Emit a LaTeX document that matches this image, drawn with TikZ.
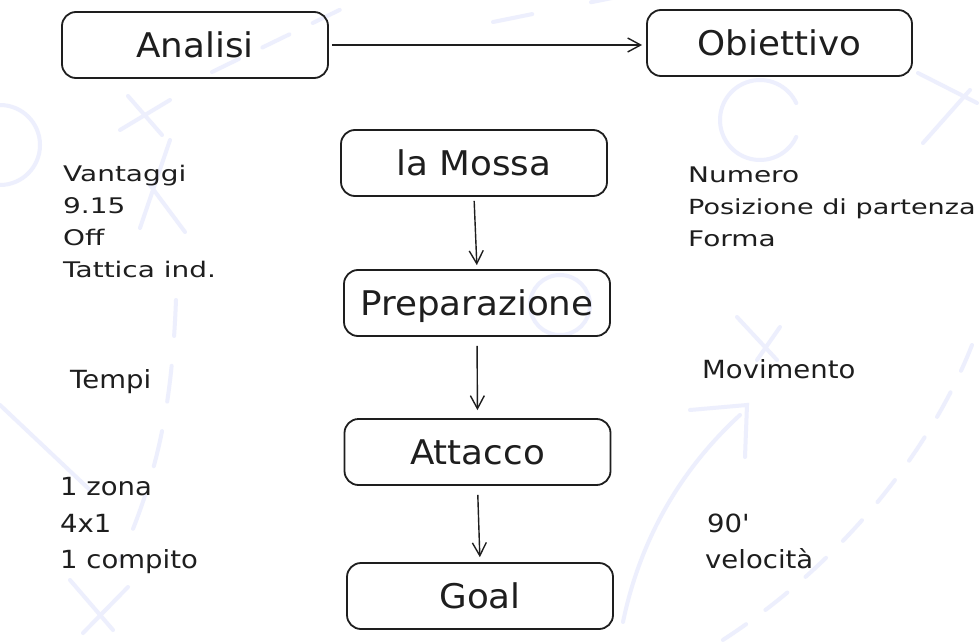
\documentclass[tikz,border=0pt]{standalone}
\usepackage{fontspec}
\usetikzlibrary{arrows.meta}
\newfontfamily\boxfont{DejaVu Sans}[FakeStretch=1.05]
\newfontfamily\sidefonta{DejaVu Sans}[FakeStretch=1.3]
\newfontfamily\sidefontb{DejaVu Sans}[FakeStretch=1.1]
\definecolor{ink}{HTML}{1E1E1E}
\definecolor{faint}{RGB}{237,239,253}
\begin{document}
\begin{tikzpicture}[x=1pt,y=-1pt,
  flowbox/.style={draw=ink, line width=1.8pt, rounded corners=14pt, minimum width=266pt,
    minimum height=66pt, inner sep=0pt, text=ink,
    font=\boxfont\fontsize{34pt}{40pt}\selectfont, text height=25pt, text depth=0pt},
  flowarrow/.style={draw=ink, line width=1.4pt, -{Straight Barb[length=13pt,width=14pt]}},
  sidea/.style={anchor=base west, inner sep=0pt, text=ink, font=\sidefonta\fontsize{21.5pt}{24pt}\selectfont},
  sideb/.style={anchor=base west, inner sep=0pt, text=ink, font=\sidefontb\fontsize{25pt}{30pt}\selectfont},
  bgmark/.style={draw=faint, line width=4pt, line cap=round}
]
\clip (0,0) rectangle (980,642);
\fill[white] (0,0) rectangle (980,642);

% faint background markings
\draw[bgmark, dash pattern=on 30pt off 26pt] (212,72) -- (360,0);
\draw[bgmark, dash pattern=on 40pt off 60pt] (493,22) -- (612,-2);
\draw[bgmark] (760,120) ++(25:40) arc[start angle=25, end angle=335, radius=40];
\draw[bgmark] (918,73) -- (977,103) (923,143) -- (970,90);
\draw[bgmark] (737,317) -- (777,360) (780,327) -- (757,360);
\draw[bgmark] (560,305) circle[radius=30];
\draw[bgmark] (623,622) .. controls (640,540) and (680,470) .. (740,415);
\draw[bgmark] (690,410) -- (747,405) -- (745,457);
\draw[bgmark, dash pattern=on 28pt off 24pt] (972,345) .. controls (935,440) and (850,560) .. (715,645);
\draw[bgmark, dash pattern=on 36pt off 30pt] (176,300) .. controls (172,400) and (160,470) .. (120,560);
\draw[bgmark] (0,405) -- (90,490);
\draw[bgmark] (70,580) -- (113,630) (128,587) -- (83,633);
\draw[bgmark] (128,96) -- (162,135) (120,130) -- (170,100);
\draw[bgmark] (150,185) -- (185,232) (140,228) -- (170,140);
\draw[bgmark] (0,185) arc[start angle=90, end angle=-90, radius=40];

% boxes
\node[flowbox] (analisi) at (195,45) {Analisi};
\node[flowbox, minimum width=265pt] (obiettivo) at (779.5,43) {Obiettivo};
\node[flowbox] (mossa) at (474,163) {la Mossa};
\node[flowbox] (prep) at (477,303) {Preparazione};
\node[flowbox] (attacco) at (477.5,452) {Attacco};
\node[flowbox] (goal) at (480,596) {Goal};

% connectors
\draw[flowarrow, shorten <=3pt, shorten >=4pt] (analisi.east) -- (analisi.east -| obiettivo.west);
\draw[flowarrow, shorten <=4pt, shorten >=4pt] (mossa.south) -- (prep.north);
\draw[flowarrow, shorten <=9pt, shorten >=8pt] (prep.south) -- (attacco.north);
\draw[flowarrow, shorten <=9pt, shorten >=5pt] (attacco.south) -- (goal.north);

% side texts
\node[sidea] (vantaggi) at (63,181) {Vantaggi};
\node[sidea] (n915) at (63,213) {9.15};
\node[sidea] (off) at (63,245) {Off};
\node[sidea] (tattica) at (63,277) {Tattica ind.};
\node[sidea] (numero) at (688,182) {Numero};
\node[sidea, font=\sidefonta\fontsize{20.8pt}{24pt}\selectfont] (posizione) at (688,214) {Posizione di partenza};
\node[sidea] (forma) at (688,246) {Forma};
\node[sideb] (tempi) at (70,388) {Tempi};
\node[sideb] (movimento) at (702,378) {Movimento};
\node[sideb] (zona) at (60,495) {1 zona};
\node[sideb] (qx1) at (60,532) {4x1};
\node[sideb] (compito) at (60,568) {1 compito};
\node[sideb] (novanta) at (707,532) {90'};
\node[sideb] (velocita) at (705,568) {velocità};
\end{tikzpicture}
\end{document}
